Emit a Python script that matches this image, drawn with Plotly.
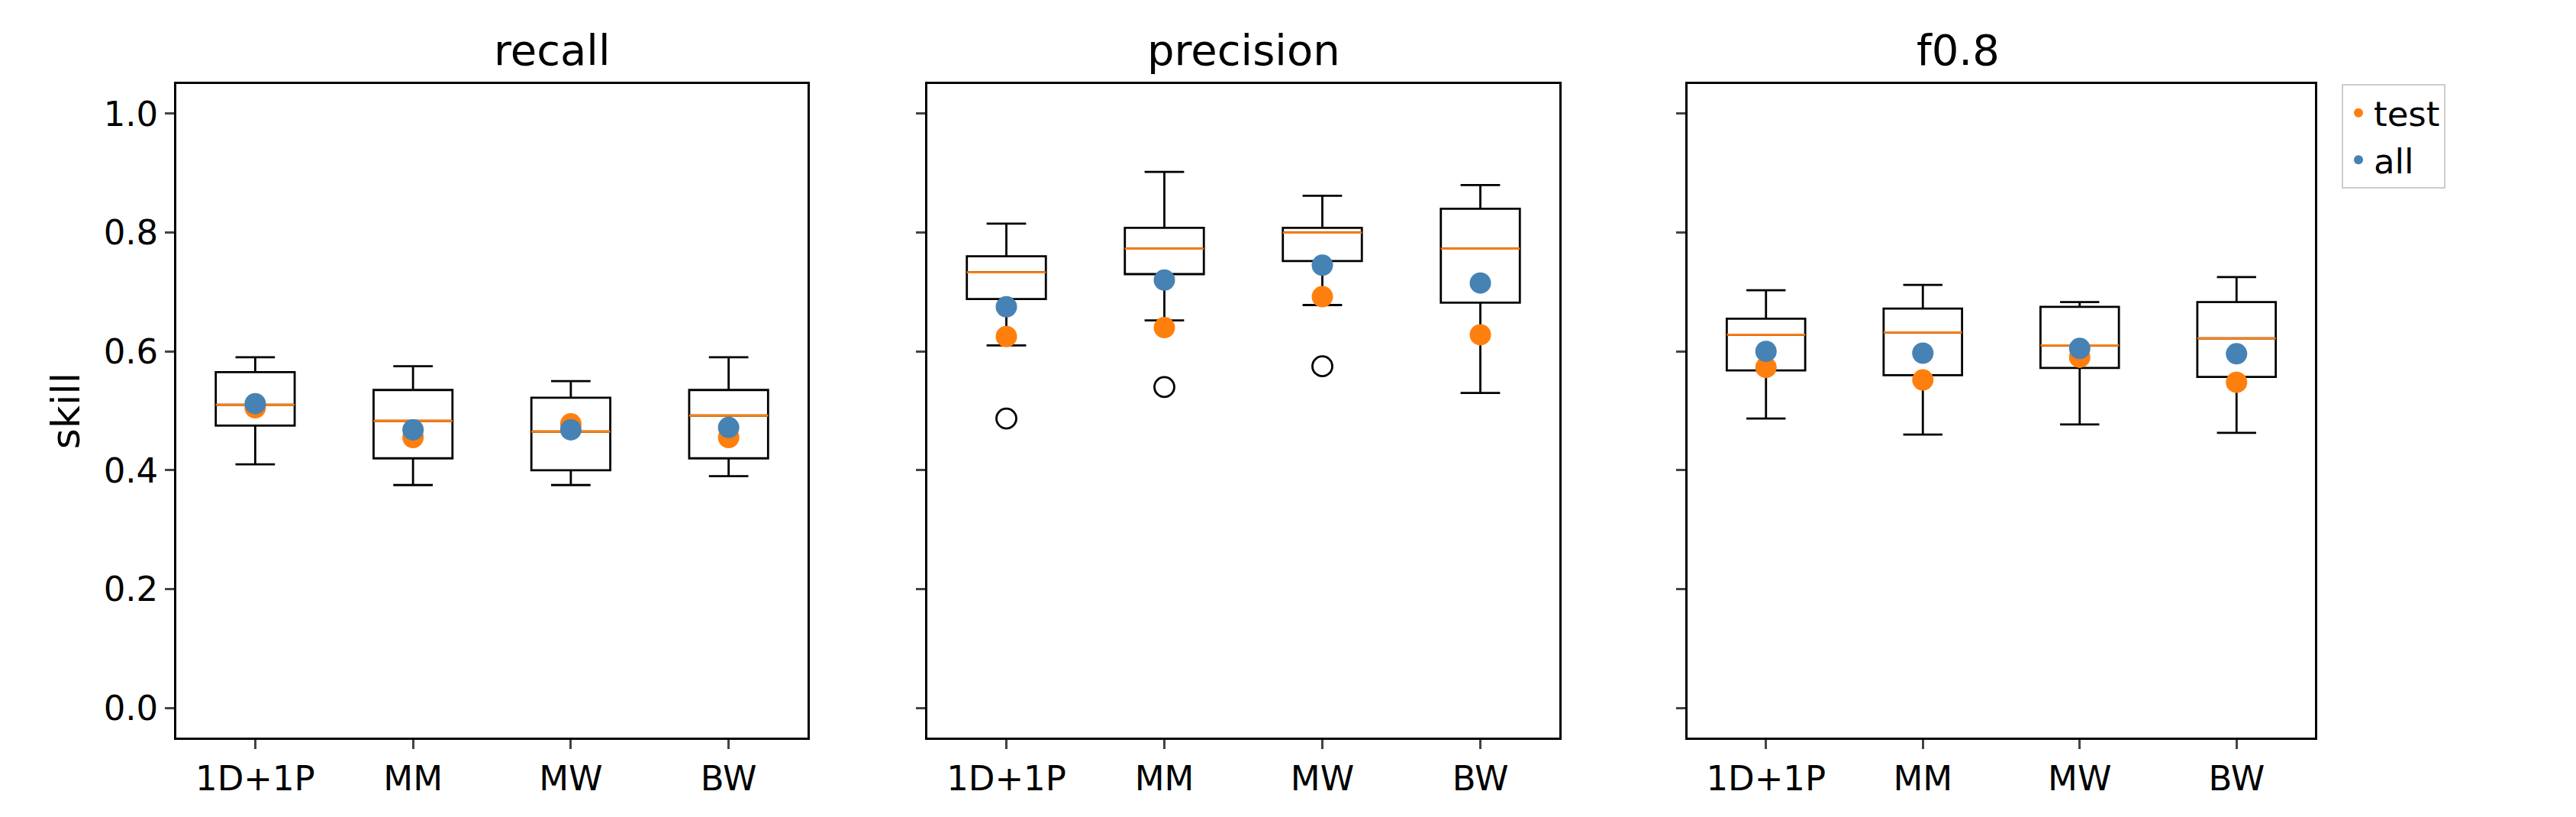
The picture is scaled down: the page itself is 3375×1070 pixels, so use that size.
import plotly.graph_objects as go

categories = ["1D+1P", "MM", "MW", "BW"]
panels = ["recall", "precision", "f0.8"]
lowf = {"recall": [0.41, 0.375, 0.375, 0.39], "precision": [0.61, 0.652, 0.678, 0.53], "f0.8": [0.487, 0.46, 0.477, 0.463]}
q1 = {"recall": [0.475, 0.42, 0.40, 0.42], "precision": [0.688, 0.73, 0.752, 0.682], "f0.8": [0.568, 0.56, 0.572, 0.557]}
med = {"recall": [0.51, 0.483, 0.465, 0.492], "precision": [0.733, 0.773, 0.80, 0.773], "f0.8": [0.628, 0.632, 0.61, 0.622]}
q3 = {"recall": [0.565, 0.535, 0.522, 0.535], "precision": [0.76, 0.808, 0.808, 0.84], "f0.8": [0.655, 0.672, 0.675, 0.683]}
upf = {"recall": [0.59, 0.575, 0.55, 0.59], "precision": [0.815, 0.902, 0.862, 0.88], "f0.8": [0.703, 0.712, 0.683, 0.725]}
outl_x = {"recall": [], "precision": [0, 1, 2], "f0.8": []}
outl_y = {"recall": [], "precision": [0.487, 0.54, 0.575], "f0.8": []}
test = {"recall": [0.505, 0.455, 0.478, 0.455], "precision": [0.625, 0.64, 0.692, 0.628], "f0.8": [0.573, 0.552, 0.59, 0.548]}
allv = {"recall": [0.512, 0.468, 0.468, 0.472], "precision": [0.675, 0.72, 0.745, 0.715], "f0.8": [0.6, 0.597, 0.605, 0.596]}

W, H = 3375, 1070
xpix = [(223, 1050), (1207, 2035), (2203, 3025)]
mt, mb = 102, H - 958
fig = go.Figure()
pos = list(range(len(categories)))
for k, p in enumerate(panels):
    xa = "x" if k == 0 else f"x{k+1}"
    ya = "y" if k == 0 else f"y{k+1}"
    for i in pos:
        fig.add_trace(go.Box(x=[i], lowerfence=[lowf[p][i]], q1=[q1[p][i]], median=[med[p][i]],
                             q3=[q3[p][i]], upperfence=[upf[p][i]], width=0.5, whiskerwidth=0.5,
                             line=dict(color="black", width=2.8), fillcolor="rgba(0,0,0,0)",
                             boxpoints=False, showlegend=False, xaxis=xa, yaxis=ya, hoverinfo="skip"))
        fig.add_trace(go.Scatter(x=[i - 0.25, i + 0.25], y=[med[p][i]] * 2, mode="lines",
                                 line=dict(color="#ff7f0e", width=2.8), showlegend=False, xaxis=xa, yaxis=ya))
    if outl_x[p]:
        fig.add_trace(go.Scatter(x=outl_x[p], y=outl_y[p], mode="markers",
                                 marker=dict(symbol="circle-open", size=26, color="black", line=dict(width=2.8)),
                                 showlegend=False, xaxis=xa, yaxis=ya))
    fig.add_trace(go.Scatter(x=pos, y=test[p], mode="markers", name="test", marker=dict(color="#ff7f0e", size=28),
                             showlegend=(k == 0), xaxis=xa, yaxis=ya))
    fig.add_trace(go.Scatter(x=pos, y=allv[p], mode="markers", name="all", marker=dict(color="steelblue", size=28),
                             showlegend=(k == 0), xaxis=xa, yaxis=ya))

layout = dict(width=W, height=H, plot_bgcolor="white", paper_bgcolor="white",
              margin=dict(l=0, r=0, t=mt, b=mb),
              font=dict(family="DejaVu Sans", size=45, color="black"),
              legend=dict(x=3060 / W, y=1.0, xanchor="left", yanchor="top", bordercolor="#cccccc",
                          borderwidth=2, font=dict(size=45), itemsizing="constant", traceorder="normal"),
              annotations=[])
for k, p in enumerate(panels):
    sx = "" if k == 0 else str(k + 1)
    layout[f"xaxis{sx}"] = dict(domain=[xpix[k][0] / W, xpix[k][1] / W], range=[-0.5, 3.5],
                                tickvals=pos, ticktext=categories, showline=True, mirror=True,
                                linecolor="black", linewidth=2.5, ticks="outside", ticklen=12, tickwidth=2.5,
                                showgrid=False, zeroline=False, anchor="y" if k == 0 else f"y{k+1}")
    layout[f"yaxis{sx}"] = dict(range=[-0.05, 1.05], tickvals=[0, 0.2, 0.4, 0.6, 0.8, 1.0],
                                ticktext=["0.0", "0.2", "0.4", "0.6", "0.8", "1.0"] if k == 0 else [""] * 6,
                                showline=True, mirror=True, linecolor="black", linewidth=2.5,
                                ticks="outside", ticklen=12, tickwidth=2.5, showgrid=False, zeroline=False,
                                anchor="x" if k == 0 else f"x{k+1}",
                                title=dict(text="skill", font=dict(size=52), standoff=15) if k == 0 else None)
    layout["annotations"].append(dict(text=p, x=(xpix[k][0] + xpix[k][1]) / 2 / W, y=1.0, xref="paper",
                                      yref="paper", yanchor="bottom", yshift=10, showarrow=False,
                                      font=dict(size=56)))
fig.update_layout(**layout)
fig.write_html("out.html")
